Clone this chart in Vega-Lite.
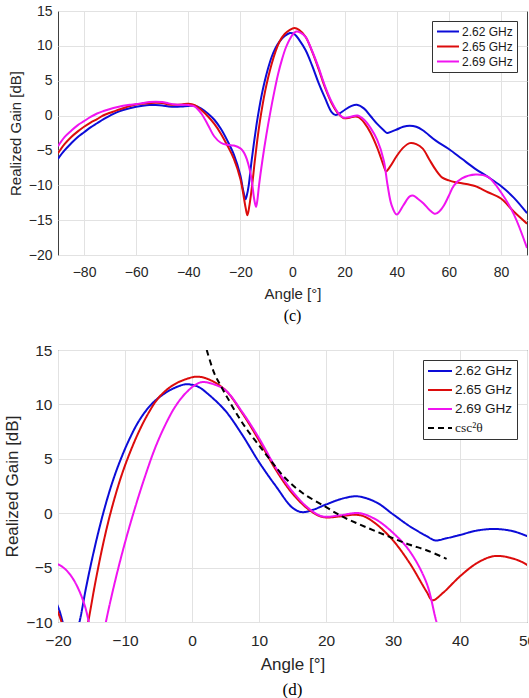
{
  "$schema": "https://vega.github.io/schema/vega-lite/v6.json",
  "background": "white",
  "padding": {"left": 3, "top": 3, "right": 0, "bottom": 0},
  "spacing": 17,
  "config": {
    "font": "Liberation Sans",
    "view": {"stroke": "#404040", "strokeWidth": 1},
    "axis": {"domain": false, "ticks": false, "grid": true, "gridColor": "#e2e2e2", "gridWidth": 1, "labelColor": "#262626", "titleColor": "#262626", "titleFontWeight": "normal", "labelFont": "Liberation Sans", "titleFont": "Liberation Sans", "labelFlush": false},
    "line": {"strokeWidth": 2, "interpolate": "catmull-rom"}
  },
  "resolve": {"scale": {"x": "independent", "y": "independent", "color": "independent", "strokeDash": "independent"}, "legend": {"color": "independent", "strokeDash": "independent"}},
  "datasets": {
    "gain": [
      {"angle": -90, "gain": -6.2, "series": "2.62 GHz"}, {"angle": -87.5, "gain": -5.0, "series": "2.62 GHz"}, {"angle": -85, "gain": -4.0, "series": "2.62 GHz"}, {"angle": -82.5, "gain": -3.1, "series": "2.62 GHz"}, {"angle": -80, "gain": -2.4, "series": "2.62 GHz"}, {"angle": -77.5, "gain": -1.7, "series": "2.62 GHz"}, {"angle": -75, "gain": -1.1, "series": "2.62 GHz"}, {"angle": -72.5, "gain": -0.5, "series": "2.62 GHz"}, {"angle": -70, "gain": 0.0, "series": "2.62 GHz"}, {"angle": -67.5, "gain": 0.45, "series": "2.62 GHz"}, {"angle": -65, "gain": 0.8, "series": "2.62 GHz"}, {"angle": -62.5, "gain": 1.05, "series": "2.62 GHz"}, {"angle": -60, "gain": 1.25, "series": "2.62 GHz"}, {"angle": -57.5, "gain": 1.4, "series": "2.62 GHz"}, {"angle": -55, "gain": 1.5, "series": "2.62 GHz"}, {"angle": -52.5, "gain": 1.5, "series": "2.62 GHz"}, {"angle": -50, "gain": 1.45, "series": "2.62 GHz"}, {"angle": -47.5, "gain": 1.3, "series": "2.62 GHz"}, {"angle": -45, "gain": 1.25, "series": "2.62 GHz"}, {"angle": -42.5, "gain": 1.3, "series": "2.62 GHz"}, {"angle": -40, "gain": 1.38, "series": "2.62 GHz"}, {"angle": -37.5, "gain": 1.4, "series": "2.62 GHz"}, {"angle": -35, "gain": 1.0, "series": "2.62 GHz"}, {"angle": -32.5, "gain": 0.3, "series": "2.62 GHz"}, {"angle": -30, "gain": -0.6, "series": "2.62 GHz"}, {"angle": -27.5, "gain": -1.9, "series": "2.62 GHz"}, {"angle": -25, "gain": -3.6, "series": "2.62 GHz"}, {"angle": -22.5, "gain": -5.6, "series": "2.62 GHz"}, {"angle": -20, "gain": -8.6, "series": "2.62 GHz"}, {"angle": -19, "gain": -10.6, "series": "2.62 GHz"}, {"angle": -18, "gain": -12.0, "series": "2.62 GHz"}, {"angle": -17.5, "gain": -11.4, "series": "2.62 GHz"}, {"angle": -16.8, "gain": -10.0, "series": "2.62 GHz"}, {"angle": -15.8, "gain": -6.8, "series": "2.62 GHz"}, {"angle": -14.8, "gain": -3.9, "series": "2.62 GHz"}, {"angle": -13.8, "gain": -1.3, "series": "2.62 GHz"}, {"angle": -12.8, "gain": 1.0, "series": "2.62 GHz"}, {"angle": -11.8, "gain": 3.0, "series": "2.62 GHz"}, {"angle": -10.8, "gain": 4.7, "series": "2.62 GHz"}, {"angle": -9.5, "gain": 6.6, "series": "2.62 GHz"}, {"angle": -8, "gain": 8.4, "series": "2.62 GHz"}, {"angle": -6.5, "gain": 9.7, "series": "2.62 GHz"}, {"angle": -5, "gain": 10.6, "series": "2.62 GHz"}, {"angle": -3, "gain": 11.4, "series": "2.62 GHz"}, {"angle": -1, "gain": 11.85, "series": "2.62 GHz"}, {"angle": 0, "gain": 11.8, "series": "2.62 GHz"}, {"angle": 1, "gain": 11.6, "series": "2.62 GHz"}, {"angle": 2.5, "gain": 10.9, "series": "2.62 GHz"}, {"angle": 5, "gain": 9.4, "series": "2.62 GHz"}, {"angle": 7.5, "gain": 7.2, "series": "2.62 GHz"}, {"angle": 10, "gain": 4.7, "series": "2.62 GHz"}, {"angle": 12.5, "gain": 2.5, "series": "2.62 GHz"}, {"angle": 15, "gain": 0.5, "series": "2.62 GHz"}, {"angle": 16.4, "gain": 0.1, "series": "2.62 GHz"}, {"angle": 18, "gain": 0.3, "series": "2.62 GHz"}, {"angle": 20, "gain": 0.8, "series": "2.62 GHz"}, {"angle": 22.5, "gain": 1.35, "series": "2.62 GHz"}, {"angle": 24.7, "gain": 1.55, "series": "2.62 GHz"}, {"angle": 27.5, "gain": 1.0, "series": "2.62 GHz"}, {"angle": 30, "gain": -0.1, "series": "2.62 GHz"}, {"angle": 32.5, "gain": -1.2, "series": "2.62 GHz"}, {"angle": 35, "gain": -2.1, "series": "2.62 GHz"}, {"angle": 36.3, "gain": -2.5, "series": "2.62 GHz"}, {"angle": 38, "gain": -2.3, "series": "2.62 GHz"}, {"angle": 40, "gain": -2.0, "series": "2.62 GHz"}, {"angle": 42.5, "gain": -1.6, "series": "2.62 GHz"}, {"angle": 45, "gain": -1.45, "series": "2.62 GHz"}, {"angle": 47.5, "gain": -1.6, "series": "2.62 GHz"}, {"angle": 50, "gain": -2.1, "series": "2.62 GHz"}, {"angle": 55, "gain": -3.6, "series": "2.62 GHz"}, {"angle": 60, "gain": -4.8, "series": "2.62 GHz"}, {"angle": 65, "gain": -6.2, "series": "2.62 GHz"}, {"angle": 70, "gain": -7.6, "series": "2.62 GHz"}, {"angle": 75, "gain": -8.8, "series": "2.62 GHz"}, {"angle": 80, "gain": -10.1, "series": "2.62 GHz"}, {"angle": 85, "gain": -11.8, "series": "2.62 GHz"}, {"angle": 90, "gain": -14.0, "series": "2.62 GHz"},

      {"angle": -90, "gain": -5.4, "series": "2.65 GHz"}, {"angle": -87.5, "gain": -4.1, "series": "2.65 GHz"}, {"angle": -85, "gain": -3.1, "series": "2.65 GHz"}, {"angle": -82.5, "gain": -2.3, "series": "2.65 GHz"}, {"angle": -80, "gain": -1.6, "series": "2.65 GHz"}, {"angle": -77.5, "gain": -1.0, "series": "2.65 GHz"}, {"angle": -75, "gain": -0.5, "series": "2.65 GHz"}, {"angle": -72.5, "gain": 0.05, "series": "2.65 GHz"}, {"angle": -70, "gain": 0.4, "series": "2.65 GHz"}, {"angle": -67.5, "gain": 0.75, "series": "2.65 GHz"}, {"angle": -65, "gain": 1.05, "series": "2.65 GHz"}, {"angle": -62.5, "gain": 1.35, "series": "2.65 GHz"}, {"angle": -60, "gain": 1.6, "series": "2.65 GHz"}, {"angle": -57.5, "gain": 1.7, "series": "2.65 GHz"}, {"angle": -55, "gain": 1.78, "series": "2.65 GHz"}, {"angle": -52.5, "gain": 1.85, "series": "2.65 GHz"}, {"angle": -50, "gain": 1.8, "series": "2.65 GHz"}, {"angle": -47.5, "gain": 1.6, "series": "2.65 GHz"}, {"angle": -45, "gain": 1.55, "series": "2.65 GHz"}, {"angle": -42.5, "gain": 1.6, "series": "2.65 GHz"}, {"angle": -40, "gain": 1.7, "series": "2.65 GHz"}, {"angle": -37.5, "gain": 1.5, "series": "2.65 GHz"}, {"angle": -35, "gain": 0.8, "series": "2.65 GHz"}, {"angle": -32.5, "gain": -0.1, "series": "2.65 GHz"}, {"angle": -30, "gain": -1.2, "series": "2.65 GHz"}, {"angle": -27.5, "gain": -2.6, "series": "2.65 GHz"}, {"angle": -25, "gain": -4.3, "series": "2.65 GHz"}, {"angle": -22.5, "gain": -6.2, "series": "2.65 GHz"}, {"angle": -20, "gain": -9.1, "series": "2.65 GHz"}, {"angle": -19, "gain": -11.0, "series": "2.65 GHz"}, {"angle": -18, "gain": -13.2, "series": "2.65 GHz"}, {"angle": -17.3, "gain": -14.3, "series": "2.65 GHz"}, {"angle": -16.5, "gain": -12.8, "series": "2.65 GHz"}, {"angle": -15.5, "gain": -10.0, "series": "2.65 GHz"}, {"angle": -14.5, "gain": -6.6, "series": "2.65 GHz"}, {"angle": -13.5, "gain": -3.5, "series": "2.65 GHz"}, {"angle": -12.5, "gain": -0.8, "series": "2.65 GHz"}, {"angle": -11.5, "gain": 1.5, "series": "2.65 GHz"}, {"angle": -10.5, "gain": 3.5, "series": "2.65 GHz"}, {"angle": -9.5, "gain": 5.2, "series": "2.65 GHz"}, {"angle": -8, "gain": 7.4, "series": "2.65 GHz"}, {"angle": -6.5, "gain": 9.2, "series": "2.65 GHz"}, {"angle": -5, "gain": 10.6, "series": "2.65 GHz"}, {"angle": -3, "gain": 11.7, "series": "2.65 GHz"}, {"angle": -1, "gain": 12.3, "series": "2.65 GHz"}, {"angle": 0.75, "gain": 12.55, "series": "2.65 GHz"}, {"angle": 2.5, "gain": 12.3, "series": "2.65 GHz"}, {"angle": 5, "gain": 11.3, "series": "2.65 GHz"}, {"angle": 7.5, "gain": 9.2, "series": "2.65 GHz"}, {"angle": 10, "gain": 6.7, "series": "2.65 GHz"}, {"angle": 12.5, "gain": 4.0, "series": "2.65 GHz"}, {"angle": 15, "gain": 1.8, "series": "2.65 GHz"}, {"angle": 17.5, "gain": 0.3, "series": "2.65 GHz"}, {"angle": 19.5, "gain": -0.35, "series": "2.65 GHz"}, {"angle": 22, "gain": -0.3, "series": "2.65 GHz"}, {"angle": 24, "gain": -0.15, "series": "2.65 GHz"}, {"angle": 25.5, "gain": -0.25, "series": "2.65 GHz"}, {"angle": 27.5, "gain": -1.0, "series": "2.65 GHz"}, {"angle": 30, "gain": -2.5, "series": "2.65 GHz"}, {"angle": 32.5, "gain": -4.6, "series": "2.65 GHz"}, {"angle": 35, "gain": -7.2, "series": "2.65 GHz"}, {"angle": 35.9, "gain": -8.0, "series": "2.65 GHz"}, {"angle": 37.5, "gain": -7.3, "series": "2.65 GHz"}, {"angle": 40, "gain": -5.8, "series": "2.65 GHz"}, {"angle": 42.5, "gain": -4.6, "series": "2.65 GHz"}, {"angle": 45, "gain": -3.95, "series": "2.65 GHz"}, {"angle": 47.5, "gain": -4.1, "series": "2.65 GHz"}, {"angle": 50, "gain": -4.75, "series": "2.65 GHz"}, {"angle": 52.5, "gain": -6.3, "series": "2.65 GHz"}, {"angle": 55, "gain": -7.8, "series": "2.65 GHz"}, {"angle": 57.5, "gain": -8.9, "series": "2.65 GHz"}, {"angle": 60, "gain": -9.3, "series": "2.65 GHz"}, {"angle": 62.5, "gain": -9.55, "series": "2.65 GHz"}, {"angle": 65, "gain": -9.7, "series": "2.65 GHz"}, {"angle": 70, "gain": -10.1, "series": "2.65 GHz"}, {"angle": 75, "gain": -11.0, "series": "2.65 GHz"}, {"angle": 80, "gain": -11.9, "series": "2.65 GHz"}, {"angle": 85, "gain": -13.8, "series": "2.65 GHz"}, {"angle": 90, "gain": -15.5, "series": "2.65 GHz"},

      {"angle": -90, "gain": -4.4, "series": "2.69 GHz"}, {"angle": -87.5, "gain": -3.1, "series": "2.69 GHz"}, {"angle": -85, "gain": -2.2, "series": "2.69 GHz"}, {"angle": -82.5, "gain": -1.4, "series": "2.69 GHz"}, {"angle": -80, "gain": -0.8, "series": "2.69 GHz"}, {"angle": -77.5, "gain": -0.2, "series": "2.69 GHz"}, {"angle": -75, "gain": 0.3, "series": "2.69 GHz"}, {"angle": -72.5, "gain": 0.65, "series": "2.69 GHz"}, {"angle": -70, "gain": 0.95, "series": "2.69 GHz"}, {"angle": -67.5, "gain": 1.2, "series": "2.69 GHz"}, {"angle": -65, "gain": 1.4, "series": "2.69 GHz"}, {"angle": -62.5, "gain": 1.55, "series": "2.69 GHz"}, {"angle": -60, "gain": 1.65, "series": "2.69 GHz"}, {"angle": -57.5, "gain": 1.8, "series": "2.69 GHz"}, {"angle": -55, "gain": 1.95, "series": "2.69 GHz"}, {"angle": -52.5, "gain": 2.0, "series": "2.69 GHz"}, {"angle": -50, "gain": 1.95, "series": "2.69 GHz"}, {"angle": -47.5, "gain": 1.75, "series": "2.69 GHz"}, {"angle": -45, "gain": 1.6, "series": "2.69 GHz"}, {"angle": -42.5, "gain": 1.55, "series": "2.69 GHz"}, {"angle": -40, "gain": 1.5, "series": "2.69 GHz"}, {"angle": -37.5, "gain": 1.3, "series": "2.69 GHz"}, {"angle": -35, "gain": 0.3, "series": "2.69 GHz"}, {"angle": -32.5, "gain": -1.3, "series": "2.69 GHz"}, {"angle": -30, "gain": -3.0, "series": "2.69 GHz"}, {"angle": -27.5, "gain": -3.9, "series": "2.69 GHz"}, {"angle": -25, "gain": -4.2, "series": "2.69 GHz"}, {"angle": -22.5, "gain": -4.3, "series": "2.69 GHz"}, {"angle": -20, "gain": -4.7, "series": "2.69 GHz"}, {"angle": -19, "gain": -5.1, "series": "2.69 GHz"}, {"angle": -18, "gain": -5.8, "series": "2.69 GHz"}, {"angle": -17, "gain": -6.9, "series": "2.69 GHz"}, {"angle": -16, "gain": -8.5, "series": "2.69 GHz"}, {"angle": -15.4, "gain": -10.0, "series": "2.69 GHz"}, {"angle": -14.7, "gain": -12.0, "series": "2.69 GHz"}, {"angle": -14, "gain": -13.1, "series": "2.69 GHz"}, {"angle": -13.5, "gain": -12.2, "series": "2.69 GHz"}, {"angle": -12.85, "gain": -10.0, "series": "2.69 GHz"}, {"angle": -11.5, "gain": -6.3, "series": "2.69 GHz"}, {"angle": -10, "gain": -2.7, "series": "2.69 GHz"}, {"angle": -8.5, "gain": 0.5, "series": "2.69 GHz"}, {"angle": -7, "gain": 3.4, "series": "2.69 GHz"}, {"angle": -5.5, "gain": 6.0, "series": "2.69 GHz"}, {"angle": -4, "gain": 8.1, "series": "2.69 GHz"}, {"angle": -2.5, "gain": 9.8, "series": "2.69 GHz"}, {"angle": -1, "gain": 11.0, "series": "2.69 GHz"}, {"angle": 0.5, "gain": 11.8, "series": "2.69 GHz"}, {"angle": 1.5, "gain": 12.05, "series": "2.69 GHz"}, {"angle": 3, "gain": 11.9, "series": "2.69 GHz"}, {"angle": 5, "gain": 11.3, "series": "2.69 GHz"}, {"angle": 7.5, "gain": 9.3, "series": "2.69 GHz"}, {"angle": 10, "gain": 6.9, "series": "2.69 GHz"}, {"angle": 12.5, "gain": 4.2, "series": "2.69 GHz"}, {"angle": 15, "gain": 2.0, "series": "2.69 GHz"}, {"angle": 17.5, "gain": 0.4, "series": "2.69 GHz"}, {"angle": 19.5, "gain": -0.3, "series": "2.69 GHz"}, {"angle": 22, "gain": -0.2, "series": "2.69 GHz"}, {"angle": 25, "gain": 0.0, "series": "2.69 GHz"}, {"angle": 27.5, "gain": -0.6, "series": "2.69 GHz"}, {"angle": 30, "gain": -1.8, "series": "2.69 GHz"}, {"angle": 32.5, "gain": -3.5, "series": "2.69 GHz"}, {"angle": 35, "gain": -6.4, "series": "2.69 GHz"}, {"angle": 36.5, "gain": -10.0, "series": "2.69 GHz"}, {"angle": 38, "gain": -12.8, "series": "2.69 GHz"}, {"angle": 40, "gain": -14.2, "series": "2.69 GHz"}, {"angle": 42.5, "gain": -12.9, "series": "2.69 GHz"}, {"angle": 45, "gain": -11.6, "series": "2.69 GHz"}, {"angle": 46.5, "gain": -11.5, "series": "2.69 GHz"}, {"angle": 48, "gain": -11.9, "series": "2.69 GHz"}, {"angle": 50.3, "gain": -12.6, "series": "2.69 GHz"}, {"angle": 52.5, "gain": -13.5, "series": "2.69 GHz"}, {"angle": 54.8, "gain": -14.1, "series": "2.69 GHz"}, {"angle": 56.5, "gain": -13.7, "series": "2.69 GHz"}, {"angle": 58.1, "gain": -12.9, "series": "2.69 GHz"}, {"angle": 60, "gain": -11.5, "series": "2.69 GHz"}, {"angle": 62, "gain": -10.0, "series": "2.69 GHz"}, {"angle": 65, "gain": -9.0, "series": "2.69 GHz"}, {"angle": 70.3, "gain": -8.45, "series": "2.69 GHz"}, {"angle": 75, "gain": -8.8, "series": "2.69 GHz"}, {"angle": 80, "gain": -11.0, "series": "2.69 GHz"}, {"angle": 85, "gain": -14.2, "series": "2.69 GHz"}, {"angle": 90, "gain": -19.0, "series": "2.69 GHz"},

      {"angle": 2.2, "gain": 15.0, "series": "csc²θ"}, {"angle": 3.3, "gain": 12.9, "series": "csc²θ"}, {"angle": 4.3, "gain": 11.7, "series": "csc²θ"}, {"angle": 5.3, "gain": 10.6, "series": "csc²θ"}, {"angle": 6.8, "gain": 9.0, "series": "csc²θ"}, {"angle": 8.3, "gain": 7.6, "series": "csc²θ"}, {"angle": 9.8, "gain": 6.4, "series": "csc²θ"}, {"angle": 11.8, "gain": 4.8, "series": "csc²θ"}, {"angle": 13.8, "gain": 3.3, "series": "csc²θ"}, {"angle": 16.4, "gain": 1.9, "series": "csc²θ"}, {"angle": 19.9, "gain": 0.6, "series": "csc²θ"}, {"angle": 22.4, "gain": -0.3, "series": "csc²θ"}, {"angle": 24.9, "gain": -1.0, "series": "csc²θ"}, {"angle": 27.4, "gain": -1.65, "series": "csc²θ"}, {"angle": 30, "gain": -2.3, "series": "csc²θ"}, {"angle": 32.5, "gain": -2.9, "series": "csc²θ"}, {"angle": 35, "gain": -3.4, "series": "csc²θ"}, {"angle": 38, "gain": -4.2, "series": "csc²θ"}
    ]
  },
  "vconcat": [
    {
      "width": 469,
      "height": 244,
      "title": {"text": "(c)", "orient": "bottom", "font": "Liberation Serif", "fontSize": 16, "fontWeight": "normal", "color": "#000000", "offset": 7},
      "data": {"name": "gain"},
      "transform": [{"filter": "datum.series !== 'csc²θ'"}],
      "mark": {"type": "line", "clip": true},
      "encoding": {
        "x": {"field": "angle", "type": "quantitative", "scale": {"domain": [-90, 90], "nice": false, "zero": false},
              "axis": {"values": [-80, -60, -40, -20, 0, 20, 40, 60, 80], "title": "Angle [°]", "labelFontSize": 14, "titleFontSize": 15, "labelPadding": 10, "titlePadding": 7}},
        "y": {"field": "gain", "type": "quantitative", "scale": {"domain": [-20, 15], "nice": false, "zero": false},
              "axis": {"values": [-20, -15, -10, -5, 0, 5, 10, 15], "title": "Realized Gain [dB]", "labelFontSize": 14, "titleFontSize": 15, "labelPadding": 6, "titlePadding": 5}},
        "color": {"field": "series", "type": "nominal",
                  "scale": {"domain": ["2.62 GHz", "2.65 GHz", "2.69 GHz"], "range": ["#0c0cd8", "#dc0c0c", "#f014f0"]},
                  "legend": {"title": null, "orient": "top-right", "offset": 10, "fillColor": "white", "strokeColor": "#333333", "padding": 4, "cornerRadius": 0,
                             "labelFontSize": 12, "labelColor": "#1a1a1a", "symbolType": "M-1,0L3,0", "symbolSize": 121, "symbolStrokeWidth": 2.5, "labelOffset": 13, "rowPadding": 2}}
      }
    },
    {
      "width": 469,
      "height": 272,
      "title": {"text": "(d)", "orient": "bottom", "font": "Liberation Serif", "fontSize": 17, "fontWeight": "normal", "color": "#000000", "offset": 9},
      "data": {"name": "gain"},
      "mark": {"type": "line", "clip": true},
      "encoding": {
        "x": {"field": "angle", "type": "quantitative", "scale": {"domain": [-20, 50], "nice": false, "zero": false},
              "axis": {"values": [-20, -10, 0, 10, 20, 30, 40, 50], "title": "Angle [°]", "labelFontSize": 15.5, "titleFontSize": 17, "labelPadding": 11, "titlePadding": 8}},
        "y": {"field": "gain", "type": "quantitative", "scale": {"domain": [-10, 15], "nice": false, "zero": false},
              "axis": {"values": [-10, -5, 0, 5, 10, 15], "title": "Realized Gain [dB]", "labelFontSize": 15.5, "titleFontSize": 17, "labelPadding": 6, "titlePadding": 4}},
        "color": {"field": "series", "type": "nominal",
                  "scale": {"domain": ["2.62 GHz", "2.65 GHz", "2.69 GHz", "csc²θ"], "range": ["#0c0cd8", "#dc0c0c", "#f014f0", "#000000"]},
                  "legend": {"title": null, "orient": "top-right", "offset": 10, "fillColor": "white", "strokeColor": "#333333", "padding": 4, "cornerRadius": 0,
                             "labelFontSize": 13.5, "labelColor": "#1a1a1a", "symbolType": "M-1,0L3,0", "symbolSize": 144, "symbolStrokeWidth": 2.5, "labelOffset": 14, "rowPadding": 5,
                             "labelFont": {"expr": "datum.label === 'csc²θ' ? 'Liberation Serif' : 'Liberation Sans'"}}},
        "strokeDash": {"field": "series", "type": "nominal",
                  "scale": {"domain": ["2.62 GHz", "2.65 GHz", "2.69 GHz", "csc²θ"], "range": [[1, 0], [1, 0], [1, 0], [6, 4]]},
                  "legend": {"title": null, "orient": "top-right", "offset": 10, "fillColor": "white", "strokeColor": "#333333", "padding": 4, "cornerRadius": 0,
                             "labelFontSize": 13.5, "labelColor": "#1a1a1a", "symbolType": "M-1,0L3,0", "symbolSize": 144, "symbolStrokeWidth": 2.5, "labelOffset": 14, "rowPadding": 5,
                             "labelFont": {"expr": "datum.label === 'csc²θ' ? 'Liberation Serif' : 'Liberation Sans'"}}}
      }
    }
  ]
}
